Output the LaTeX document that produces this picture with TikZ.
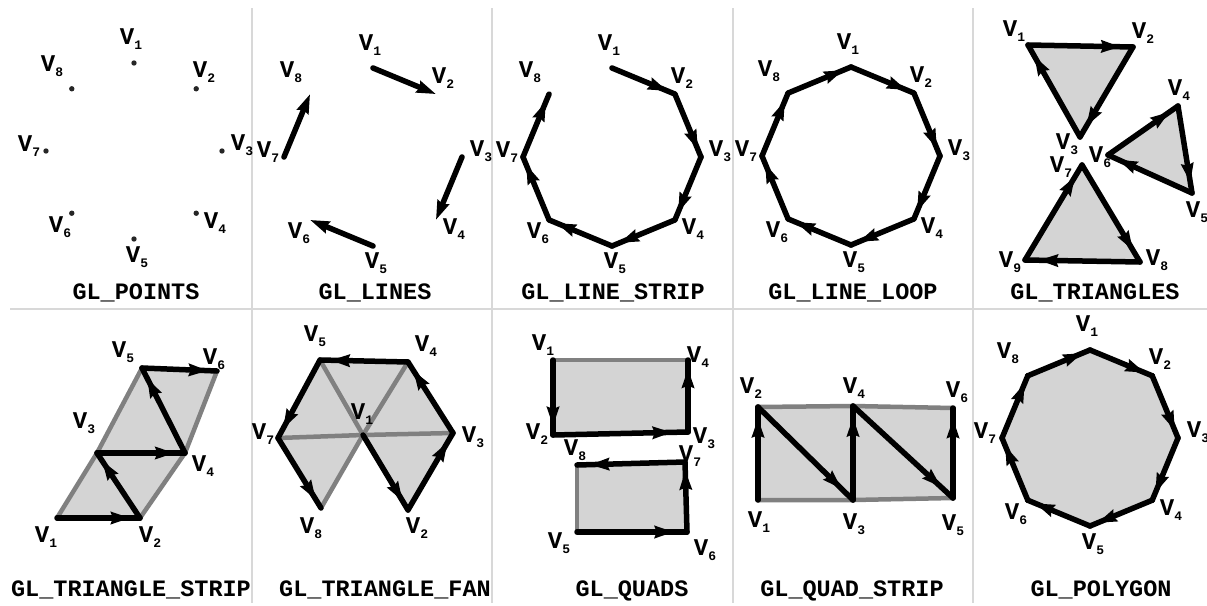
\documentclass[tikz,border=0pt]{standalone}
\usepackage{fontspec}
\setmonofont{Liberation Mono}
\usepackage{tikz}
\usetikzlibrary{arrows.meta, decorations.markings}

\definecolor{face}{RGB}{212,212,212}
\definecolor{edgegray}{RGB}{128,128,128}
\definecolor{rulegray}{RGB}{216,216,216}

% vertex label: bold V with a lowered index
\newcommand{\vx}[1]{V\raisebox{-5pt}{\fontsize{13}{13}\selectfont #1}}
% labels round an octagon (offsets from its centre)
\newcommand{\octlabels}[1]{%
  \foreach \i/\dx/\dy in {1/-3/-112, 2/70/-79, 3/108/-6, 4/81/72,
                          5/3/106, 6/-74/76, 7/-105/-5, 8/-82/-85}
    \node[vlab] (#1l\i) at (\dx,\dy) {\vx{\i}};}

\tikzset{
  rule/.style={draw=rulegray, line width=2pt},
  edge/.style={line width=5.5pt, line cap=round},
  arrowedge/.style={edge, postaction={decorate},
    decoration={markings, mark=at position 0.88 with
      {\arrow{Stealth[length=19pt,width=12pt,inset=2pt]}}}},
  grayedge/.style={draw=edgegray, line width=4.5pt, line cap=round, line join=round},
  vlab/.style={font=\ttfamily\bfseries\fontsize{24}{24}\selectfont, inner sep=0pt},
  title/.style={font=\ttfamily\bfseries\fontsize{23.5}{23.5}\selectfont,
    inner sep=0pt, anchor=base},
}

\begin{document}
\begin{tikzpicture}[x=1pt, y=-1pt]
\useasboundingbox (0,0) rectangle (1207,605);
% ---------------- panel rules ----------------
\foreach \x in {252,492,733,973} \draw[rule] (\x,8) -- (\x,603);
\draw[rule] (10,309) -- (1207,309);

% ---------------- GL_POINTS ----------------
\begin{scope}[shift={(134,151)}]
  \foreach \i in {1,...,8} \coordinate (pt\i) at ({45*\i-135}:88);
  \foreach \i in {1,...,8} \fill[black!85] (pt\i) circle (2.7);
  \octlabels{pt}
\end{scope}
\node[title] (ptname) at (136,299) {GL\_POINTS};

% ---------------- GL_LINES ----------------
\begin{scope}[shift={(373,157)}]
  \foreach \i in {1,...,8} \coordinate (ln\i) at ({45*\i-135}:89);
  \foreach \a/\b in {1/2,3/4,5/6,7/8}
    \draw[edge, -{Stealth[length=19pt,width=12pt,inset=2pt]}] (ln\a) -- (ln\b);
  \octlabels{ln}
\end{scope}
\node[title] (lnname) at (375,299) {GL\_LINES};

% ---------------- GL_LINE_STRIP ----------------
\begin{scope}[shift={(612,157)}]
  \foreach \i in {1,...,8} \coordinate (ls\i) at ({45*\i-135}:89);
  \foreach \a/\b in {1/2,2/3,3/4,4/5,5/6,6/7,7/8}
    \draw[arrowedge] (ls\a) -- (ls\b);
  \octlabels{ls}
\end{scope}
\node[title] (lsname) at (613,299) {GL\_LINE\_STRIP};

% ---------------- GL_LINE_LOOP ----------------
\begin{scope}[shift={(851,156)}]
  \foreach \i in {1,...,8} \coordinate (ll\i) at ({45*\i-135}:89);
  \foreach \a/\b in {1/2,2/3,3/4,4/5,5/6,6/7,7/8,8/1}
    \draw[arrowedge] (ll\a) -- (ll\b);
  \octlabels{ll}
\end{scope}
\node[title] (llname) at (853,299) {GL\_LINE\_LOOP};

% ---------------- GL_TRIANGLES ----------------
\coordinate (tr1) at (1028,45);  \coordinate (tr2) at (1133,47);
\coordinate (tr3) at (1080,137); \coordinate (tr4) at (1178,106);
\coordinate (tr5) at (1192,193); \coordinate (tr6) at (1108,155);
\coordinate (tr7) at (1082,165); \coordinate (tr8) at (1140,262);
\coordinate (tr9) at (1025,260);
\fill[face] (tr1) -- (tr2) -- (tr3) -- cycle;
\fill[face] (tr4) -- (tr5) -- (tr6) -- cycle;
\fill[face] (tr7) -- (tr8) -- (tr9) -- cycle;
\foreach \a/\b in {1/2,2/3,3/1,4/5,5/6,6/4,7/8,8/9,9/7}
  \draw[arrowedge] (tr\a) -- (tr\b);
\foreach \i/\x/\y in {1/1014/31, 2/1143/33, 3/1067/144, 4/1179/90, 5/1197/212,
                      6/1100/157, 7/1061/167, 8/1157/260, 9/1010/262}
  \node[vlab] (trl\i) at (\x,\y) {\vx{\i}};
\node[title] (trname) at (1095,299) {GL\_TRIANGLES};

% ---------------- GL_TRIANGLE_STRIP ----------------
\coordinate (ts1) at (57,518);  \coordinate (ts2) at (140,518);
\coordinate (ts3) at (97,453);  \coordinate (ts4) at (185,453);
\coordinate (ts5) at (142,368); \coordinate (ts6) at (217,371);
\fill[face] (ts1) -- (ts2) -- (ts4) -- (ts6) -- (ts5) -- (ts3) -- cycle;
\draw[grayedge] (ts1) -- (ts3) -- (ts5);
\draw[grayedge] (ts2) -- (ts4) -- (ts6);
\foreach \a/\b in {1/2,2/3,3/4,4/5,5/6}
  \draw[arrowedge] (ts\a) -- (ts\b);
\foreach \i/\x/\y in {1/46/537, 2/150/537, 3/84/423, 4/203/466, 5/123/352, 6/214/359}
  \node[vlab] (tsl\i) at (\x,\y) {\vx{\i}};
\node[title] (tsname) at (131,596) {GL\_TRIANGLE\_STRIP};

% ---------------- GL_TRIANGLE_FAN ----------------
\coordinate (tf1) at (363,435); \coordinate (tf2) at (408,510);
\coordinate (tf3) at (453,433); \coordinate (tf4) at (408,362);
\coordinate (tf5) at (320,360); \coordinate (tf7) at (278,438);
\coordinate (tf8) at (321,508);
\fill[face] (tf1) -- (tf2) -- (tf3) -- (tf4) -- (tf5) -- (tf7) -- (tf8) -- cycle;
\foreach \k in {3,4,5,7,8} \draw[grayedge] (tf1) -- (tf\k);
\foreach \a/\b in {1/2,2/3,3/4,4/5,5/7,7/8}
  \draw[arrowedge] (tf\a) -- (tf\b);
\foreach \i/\x/\y in {1/362/414, 2/417/528, 3/473/437, 4/426/346, 5/315/336,
                      7/263/434, 8/311/528}
  \node[vlab] (tfl\i) at (\x,\y) {\vx{\i}};
\node[title] (tfname) at (385,596) {GL\_TRIANGLE\_FAN};

% ---------------- GL_QUADS ----------------
\coordinate (qd1) at (553,360); \coordinate (qd2) at (553,435);
\coordinate (qd3) at (688,432); \coordinate (qd4) at (688,360);
\coordinate (qd5) at (577,532); \coordinate (qd6) at (687,532);
\coordinate (qd7) at (685,462); \coordinate (qd8) at (577,465);
\fill[face] (qd1) -- (qd2) -- (qd3) -- (qd4) -- cycle;
\fill[face] (qd5) -- (qd6) -- (qd7) -- (qd8) -- cycle;
\draw[grayedge] (qd4) -- (qd1);
\draw[grayedge] (qd8) -- (qd5);
\foreach \a/\b in {1/2,2/3,3/4,5/6,6/7,7/8}
  \draw[arrowedge] (qd\a) -- (qd\b);
\foreach \i/\x/\y in {1/543/345, 2/537/434, 3/704/438, 4/698/357,
                      5/559/543, 6/705/550, 7/690/456, 8/575/450}
  \node[vlab] (qdl\i) at (\x,\y) {\vx{\i}};
\node[title] (qdname) at (632,596) {GL\_QUADS};

% ---------------- GL_QUAD_STRIP ----------------
\coordinate (qs1) at (758,500); \coordinate (qs2) at (758,407);
\coordinate (qs3) at (853,500); \coordinate (qs4) at (853,406);
\coordinate (qs5) at (953,498); \coordinate (qs6) at (953,408);
\fill[face] (qs1) -- (qs3) -- (qs5) -- (qs6) -- (qs4) -- (qs2) -- cycle;
\draw[grayedge] (qs2) -- (qs4) -- (qs6);
\draw[grayedge] (qs1) -- (qs3) -- (qs5);
\foreach \a/\b in {1/2,2/3,3/4,4/5,5/6}
  \draw[arrowedge] (qs\a) -- (qs\b);
\foreach \i/\x/\y in {1/759/522, 2/751/388, 3/854/524, 4/854/388, 5/953/525, 6/957/392}
  \node[vlab] (qsl\i) at (\x,\y) {\vx{\i}};
\node[title] (qsname) at (852,596) {GL\_QUAD\_STRIP};

% ---------------- GL_POLYGON ----------------
\begin{scope}[shift={(1090,438)}]
  \foreach \i in {1,...,8} \coordinate (pg\i) at ({45*\i-135}:88);
  \fill[face] (pg1) -- (pg2) -- (pg3) -- (pg4) -- (pg5) -- (pg6) -- (pg7) -- (pg8) -- cycle;
  \foreach \a/\b in {1/2,2/3,3/4,4/5,5/6,6/7,7/8,8/1}
    \draw[arrowedge] (pg\a) -- (pg\b);
  \octlabels{pg}
\end{scope}
\node[title] (pgname) at (1101,596) {GL\_POLYGON};
\end{tikzpicture}
\end{document}
